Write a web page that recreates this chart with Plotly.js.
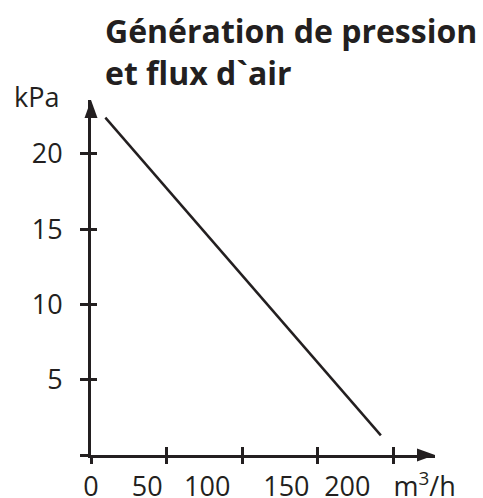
<!DOCTYPE html>
<html>
<head>
<meta charset="utf-8">
<script src="https://cdn.plot.ly/plotly-3.0.1.min.js"></script>
<style>html,body{margin:0;padding:0;background:#fff;}#chart{width:483px;height:498px;}</style>
</head>
<body>
<div id="chart"></div>
<script>
// Data
const flowValues = [9.5, 191.7];        // m³/h
const pressureValues = [22.4, 1.3];     // kPa

// Axis ticks
const xTickVals = [0, 50, 100, 150, 200];
const yTickVals = [0, 5, 10, 15, 20];
const yTickText = ['', '5', '10', '15', '20'];
// x tick labels as printed (their positions as drawn in the reference)
const xLabelPos = [0, 37.2, 76.9, 129.2, 169.5, 220.6];
const xLabelText = ['0', '50', '100', '150', '200', 'm<sup>3</sup>/h'];

const titleText = 'Génération de pression<br>et flux d`air';
const yUnit = 'kPa';

const ink = '#231f20';
const FONT = 'Open Sans, Noto Sans, sans-serif';
const xMax = 227.5, yMax = 23.57;

const base = {x: flowValues, y: pressureValues, mode: 'lines', hoverinfo: 'skip', showlegend: false};
const traces = [
  Object.assign({}, base, {line: {color: ink, width: 2.5}, xaxis: 'x', yaxis: 'y'}),
  Object.assign({}, base, {opacity: 0, xaxis: 'x2', yaxis: 'y'}),
  Object.assign({}, base, {opacity: 0, xaxis: 'x3', yaxis: 'y'}),
  Object.assign({}, base, {opacity: 0, xaxis: 'x', yaxis: 'y2'})
];

const axCommon = {showgrid: false, zeroline: false, fixedrange: true};
const layout = {
  width: 483, height: 498,
  margin: {l: 91, r: 48, t: 100, b: 43},
  paper_bgcolor: '#fff', plot_bgcolor: '#fff',
  font: {family: FONT, color: ink, size: 27},
  title: {text: titleText, font: {family: FONT, size: 32, weight: 'bold', color: ink},
          xref: 'container', x: 105/483, xanchor: 'left',
          yref: 'container', y: 1 - 43/498, yanchor: 'top'},
  xaxis: Object.assign({}, axCommon, {range: [0, xMax], showline: true, linewidth: 3, linecolor: ink,
          ticks: 'outside', ticklen: 6, tickwidth: 3, tickcolor: ink, tickvals: xTickVals, showticklabels: false, anchor: 'y'}),
  xaxis2: Object.assign({}, axCommon, {range: [0, xMax], overlaying: 'x', anchor: 'y', showline: false,
          ticks: 'inside', ticklen: 8, tickwidth: 3, tickcolor: ink, tickvals: xTickVals, showticklabels: false}),
  xaxis3: Object.assign({}, axCommon, {range: [0, xMax], overlaying: 'x', anchor: 'y', showline: false,
          ticks: '', tickvals: xLabelPos, ticktext: xLabelText, tickfont: {size: 27, color: ink, family: FONT},
          ticklabelstandoff: 13}),
  yaxis: Object.assign({}, axCommon, {range: [0, yMax], showline: true, linewidth: 3, linecolor: ink,
          ticks: 'outside', ticklen: 8, tickwidth: 3, tickcolor: ink, tickvals: yTickVals, ticktext: yTickText,
          tickfont: {size: 27, color: ink, family: FONT}, ticklabelstandoff: 12, anchor: 'x'}),
  yaxis2: Object.assign({}, axCommon, {range: [0, yMax], overlaying: 'y', anchor: 'x', showline: false,
          ticks: 'inside', ticklen: 6, tickwidth: 3, tickcolor: ink, tickvals: yTickVals, showticklabels: false}),
  shapes: [
    {type: 'path', xref: 'paper', yref: 'paper', xsizemode: 'pixel', ysizemode: 'pixel',
     xanchor: 0, yanchor: 1, path: 'M -6.5 -18 L 6.5 -18 L 0 0 Z', fillcolor: ink, line: {width: 0}},
    {type: 'path', xref: 'paper', yref: 'paper', xsizemode: 'pixel', ysizemode: 'pixel',
     xanchor: 1, yanchor: 0, path: 'M -18 -6.5 L -18 6.5 L 0 0 Z', fillcolor: ink, line: {width: 0}}
  ],
  annotations: [
    {text: yUnit, xref: 'paper', yref: 'paper', x: (12 - 91) / 344, y: (455 - 96) / 355,
     xanchor: 'left', yanchor: 'middle', showarrow: false, font: {family: FONT, size: 27, color: ink}}
  ]
};

Plotly.newPlot('chart', traces, layout, {displayModeBar: false, staticPlot: true});
</script>
</body>
</html>
